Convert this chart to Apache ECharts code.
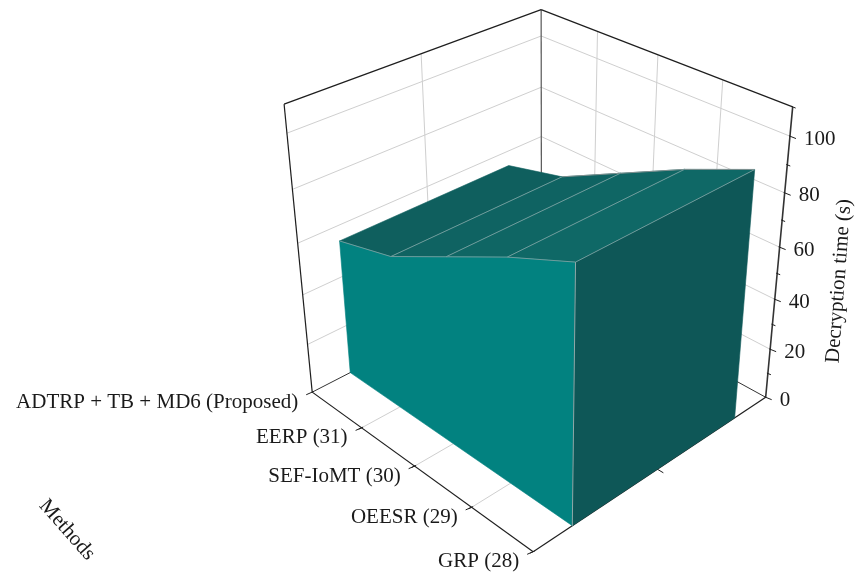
<!DOCTYPE html>
<html><head><meta charset="utf-8">
<style>html,body{margin:0;padding:0;background:#fff}#c{width:856px;height:573px}</style>
<script src="https://cdn.jsdelivr.net/npm/echarts@6/dist/echarts.min.js"></script>
</head><body><div id="c"></div>
<script>
const categories = ['ADTRP + TB + MD6 (Proposed)','EERP (31)','SEF-IoMT (30)','OEESR (29)','GRP (28)'];
const decryptionTime = [54, 60, 72, 84, 94.5];
const valueTicks = [0,20,40,60,80,100];
const valueMinorTicks = [10,30,50,70,90,110];
const valueMax = 110;
const wallDepth = [0.15, 0.85];
const xTitle = 'Methods';
const zTitle = 'Decryption time (s)';

// Camera fitted to the box drawn in the picture: [x, depth, height share] -> pixel
const cameraFit = [
 [0,0,0,312,394],[1,0,0,532,551],[1,1,0,766,397],[0,1,0,541,273],
 [0,0,1,283,103],[1,1,1,792,107],[0,1,1,541,10],
 [0,0,.5455,300,243],[1,1,.5455,781,248],[0,1,.5455,541,137]
];
function solve(A,b){const n=b.length;for(let i=0;i<n;i++){let p=i;for(let r=i+1;r<n;r++)if(Math.abs(A[r][i])>Math.abs(A[p][i]))p=r;
 [A[i],A[p]]=[A[p],A[i]];[b[i],b[p]]=[b[p],b[i]];
 for(let r=i+1;r<n;r++){const f=A[r][i]/A[i][i];for(let c=i;c<n;c++)A[r][c]-=f*A[i][c];b[r]-=f*b[i];}}
 const x=new Array(n);for(let i=n-1;i>=0;i--){let s=b[i];for(let c=i+1;c<n;c++)s-=A[i][c]*x[c];x[i]=s/A[i][i];}return x;}
const cam=(function(){const R=[],B=[];cameraFit.forEach(([a,b,c,px,py])=>{const X=px/1000,Y=py/1000;
 R.push([a,b,c,1,0,0,0,0,-X*a,-X*b,-X*c]);B.push(X);R.push([0,0,0,0,a,b,c,1,-Y*a,-Y*b,-Y*c]);B.push(Y);});
 const n=11,N=[],v=[];for(let i=0;i<n;i++){N.push(new Array(n).fill(0));v.push(0);R.forEach((r,k)=>{for(let j=0;j<n;j++)N[i][j]+=r[i]*r[j];v[i]+=r[i]*B[k];});}
 return solve(N,v);})();
function proj(x,d,h){const w=cam[8]*x+cam[9]*d+cam[10]*h+1;
 return [1000*(cam[0]*x+cam[1]*d+cam[2]*h+cam[3])/w,1000*(cam[4]*x+cam[5]*d+cam[6]*h+cam[7])/w];}
// library scales -> unit box
function unit(api,cat,val){const o=api.coord([0,0]),m=api.coord([categories.length-1,valueMax]),p=api.coord([cat,val]);
 return [(p[0]-o[0])/(m[0]-o[0]),(p[1]-o[1])/(m[1]-o[1])];}
function at(api,cat,val,d){const u=unit(api,cat,val);return proj(u[0],d,u[1]);}

const line=(a,b,color,w)=>({type:'line',shape:{x1:a[0],y1:a[1],x2:b[0],y2:b[1]},style:{stroke:color,lineWidth:w,fill:null}});
const poly=(pts,color)=>({type:'polygon',shape:{points:pts},style:{fill:color,stroke:color,lineWidth:0.6}});
const txt=(s,x,y,align,extra)=>Object.assign({type:'text',x:x,y:y,style:{text:s,font:'21px "Liberation Serif"',fill:'#1a1a1a',align:align,verticalAlign:'middle'}},extra||{});

const GRID='#cfcfcf',AXIS='#1e1e1e',N=categories.length-1;
function renderFrame(params,api){
 const c=[];
 valueTicks.slice(1).forEach(v=>{
  c.push(line(at(api,0,v,0),at(api,0,v,1),GRID,1));
  c.push(line(at(api,0,v,1),at(api,N,v,1),GRID,1));
 });
 for(let i=1;i<N;i++){
  c.push(line(at(api,i,0,0),at(api,i,0,1),GRID,1));
  c.push(line(at(api,i,0,1),at(api,i,valueMax,1),GRID,1));
 }
 c.push(line(at(api,0,0,.5),at(api,0,valueMax,.5),GRID,1));
 c.push(line(at(api,0,0,.5),at(api,N,0,.5),GRID,1));
 // box edges
 c.push(line(at(api,0,0,1),at(api,0,valueMax,1),'#555',1.2));
 c.push(line(at(api,0,0,0),at(api,0,0,1),'#333',1));
 c.push(line(at(api,0,0,1),at(api,N,0,1),'#333',1));
 c.push(line(at(api,0,0,0),at(api,0,valueMax,0),AXIS,1.2));
 c.push(line(at(api,0,valueMax,0),at(api,0,valueMax,1),AXIS,1.2));
 c.push(line(at(api,0,valueMax,1),at(api,N,valueMax,1),AXIS,1.2));
 c.push(line(at(api,N,0,1),at(api,N,valueMax,1),'#333',1.6));
 c.push(line(at(api,0,0,0),at(api,N,0,0),AXIS,1.2));
 c.push(line(at(api,N,0,0),at(api,N,0,1),AXIS,1.2));
 // ticks
 valueTicks.forEach(v=>{const p=at(api,N,v,1);c.push(line([p[0]-1,p[1]-.4],[p[0]+6,p[1]+2.4],AXIS,1));});
 valueMinorTicks.forEach(v=>{const p=at(api,N,v,1);c.push(line([p[0]-1,p[1]-.4],[p[0]+3,p[1]+1.2],AXIS,1));});
 categories.forEach((s,i)=>{const p=at(api,i,0,0);c.push(line([p[0]+1.5,p[1]-.7],[p[0]-6,p[1]+2.6],AXIS,1));
  if(i<N){const q=at(api,i+.5,0,0);c.push(line([q[0]+.5,q[1]-.3],[q[0]-3,q[1]+1.4],AXIS,1));}});
 const m=at(api,N,0,.5);c.push(line([m[0]-1,m[1]-.6],[m[0]+6,m[1]+3.6],AXIS,1));
 return {type:'group',children:c};
}
const FRONT='#028280',SIDE='#0e5757',EDGE='#6f9c9c';
const TOP_SHADES=['#0f5f5e','#0f6362','#0f6664','#0f6866'];
function renderSurface(params,api){
 const [d0,d1]=wallDepth;
 const all=decryptionTime.map((v,i)=>({i,v}));
 const frontTop=all.map(p=>at(api,p.i,p.v,d0)),backTop=all.map(p=>at(api,p.i,p.v,d1));
 const kids=[];
 for(let i=0;i<N;i++)kids.push(poly([frontTop[i],backTop[i],backTop[i+1],frontTop[i+1]],TOP_SHADES[i]));
 kids.push(poly([at(api,0,0,d0)].concat(frontTop,[at(api,N,0,d0)]),FRONT));
 kids.push(poly([at(api,N,0,d0),frontTop[N],backTop[N],at(api,N,0,d1)],SIDE));
 return {type:'group',children:kids};
}
function renderEdges(params,api){
 const i=api.value(0),v=api.value(1),c=[],[d0,d1]=wallDepth;
 if(i>0)c.push(line(at(api,i,v,d0),at(api,i,v,d1),EDGE,1));
 if(i<N)c.push(line(at(api,i,v,d0),at(api,i+1,decryptionTime[i+1],d0),EDGE,1));
 if(i>0&&i<N)c.push(line(at(api,i,v,d1),at(api,i+1,decryptionTime[i+1],d1),'#7f9090',1));
 if(i===N)c.push(line(at(api,i,0,d0),at(api,i,v,d0),'#8fa9a9',1));
 return {type:'group',children:c};
}
function renderText(params,api){
 const c=[];
 categories.forEach((s,i)=>{const p=at(api,i,0,0);c.push(txt(s,p[0]-14,p[1]+10,'right'));});
 valueTicks.forEach(v=>{const p=at(api,N,v,1);c.push(txt(String(v),p[0]+14,p[1]+3,'left'));});
 c.push(txt(zTitle,839,281,'center',{rotation:1.497}));
 c.push(txt(xTitle,67,530,'center',{rotation:-0.85}));
 return {type:'group',children:c};
}
const surfaceData=categories.map((s,i)=>[i,decryptionTime[i]]);
const chart=echarts.init(document.getElementById('c'),null,{renderer:'canvas'});
chart.setOption({
 animation:false,backgroundColor:'#fff',
 grid:{left:0,right:0,top:0,bottom:0},
 xAxis:{type:'category',data:categories,boundaryGap:false,show:false},
 yAxis:{type:'value',min:0,max:valueMax,interval:10,show:false},
 series:[
  {type:'custom',name:'frame',silent:true,clip:false,z:1,data:[[0,0]],renderItem:renderFrame},
  {type:'custom',name:'Decryption time (s)',silent:true,clip:false,z:2,data:[[0,decryptionTime[0]]],renderItem:renderSurface},
  {type:'custom',name:'edges',silent:true,clip:false,z:3,data:surfaceData,renderItem:renderEdges},
  {type:'custom',name:'labels',silent:true,clip:false,z:4,data:[[0,0]],renderItem:renderText}
 ]
});
</script></body></html>
